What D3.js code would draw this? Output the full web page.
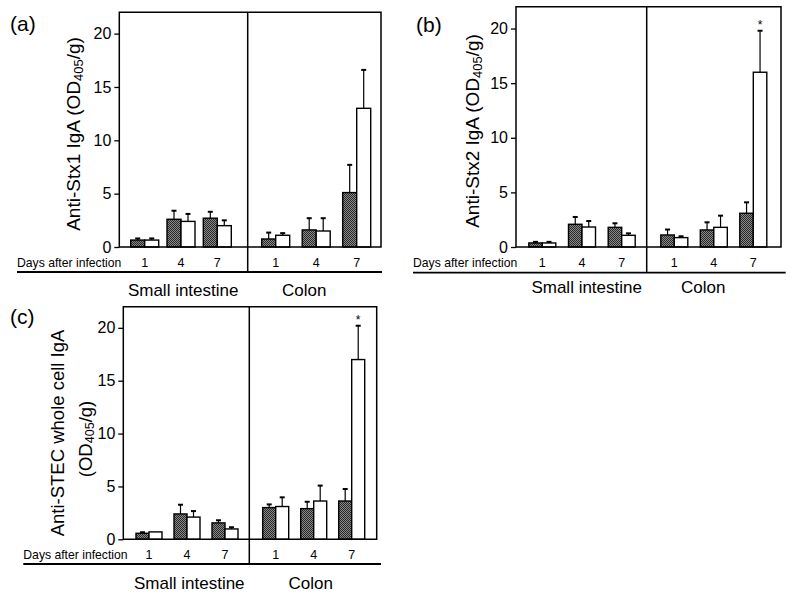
<!DOCTYPE html>
<html>
<head>
<meta charset="utf-8">
<script src="https://cdn.jsdelivr.net/npm/d3@7/dist/d3.min.js"></script>
<style>
  html, body { margin: 0; padding: 0; background: #fff; }
  svg { display: block; }
  text { font-family: "Liberation Sans", Arial, Helvetica, sans-serif; fill: #000; }
</style>
</head>
<body>
<svg id="chart" width="800" height="606"></svg>
<script>
// ---------------- DATA ----------------
const days = ["1", "4", "7"];
const sites = ["Small intestine", "Colon"];
const yTicks = [0, 5, 10, 15, 20];
const dayAxisTitle = "Days after infection";

// order: small intestine d1, d4, d7, colon d1, d4, d7
// (a) Anti-Stx1 IgA
const aDark   = [0.65, 2.6, 2.7, 0.75, 1.6, 5.1];
const aDarkSD = [0.15, 0.8, 0.6, 0.6, 1.1, 2.6];
const aOpen   = [0.65, 2.4, 2.0, 1.1, 1.5, 13.0];
const aOpenSD = [0.15, 0.7, 0.5, 0.2, 1.2, 3.6];
const aStar   = [0, 0, 0, 0, 0, 0];
// (b) Anti-Stx2 IgA
const bDark   = [0.37, 2.08, 1.8, 1.1, 1.56, 3.09];
const bDarkSD = [0.1, 0.67, 0.37, 0.5, 0.7, 1.0];
const bOpen   = [0.37, 1.83, 1.07, 0.86, 1.8, 16.0];
const bOpenSD = [0.1, 0.55, 0.18, 0.12, 1.07, 3.8];
const bStar   = [0, 0, 0, 0, 0, 1];
// (c) Anti-STEC whole cell IgA
const cDark   = [0.57, 2.4, 1.55, 3.0, 2.9, 3.62];
const cDarkSD = [0.1, 0.87, 0.25, 0.3, 0.65, 1.14];
const cOpen   = [0.7, 2.1, 0.98, 3.1, 3.62, 17.0];
const cOpenSD = [0, 0.57, 0.16, 0.87, 1.46, 3.2];
const cStar   = [0, 0, 0, 0, 0, 1];

// ---------------- LAYOUT ----------------
const panels = [
  { title: "(a)", yLabel: [["Anti-Stx1 IgA (OD", "405", "/g)"]],
    dark: aDark, darkSD: aDarkSD, open: aOpen, openSD: aOpenSD, star: aStar,
    L: 119.3, R: 381, T: 12.3, B: 247, D: 247.7, lineY: 272, lineX0: 17, lineX1: 382,
    si: [144.7, 217.3], co: [275.7, 356.7], bw: 14,
    siLabelX: 183.2, coLabelX: 304.2, sectY: 290,
    yLabX: [73], yLabY: [134], yLabSize: 19, titleX: 10, titleY: 31 },
  { title: "(b)", yLabel: [["Anti-Stx2 IgA (OD", "405", "/g)"]],
    dark: bDark, darkSD: bDarkSD, open: bOpen, openSD: bOpenSD, star: bStar,
    L: 516, R: 781, T: 6.7, B: 247, D: 646.7, lineY: 272.7, lineX0: 413, lineX1: 785.7,
    si: [542.3, 621.7], co: [674.3, 753.3], bw: 13.5,
    siLabelX: 586.7, coLabelX: 703.3, sectY: 287.3,
    yLabX: [471.7], yLabY: [131], yLabSize: 19, titleX: 416, titleY: 32 },
  { title: "(c)", yLabel: [["Anti-STEC whole cell IgA"], ["(OD", "405", "/g)"]],
    dark: cDark, darkSD: cDarkSD, open: cOpen, openSD: cOpenSD, star: cStar,
    L: 123.3, R: 376.7, T: 306.7, B: 539.3, D: 249.3, lineY: 564, lineX0: 23.3, lineX1: 381,
    si: [149, 225], co: [275.7, 351.7], bw: 13,
    siLabelX: 189.3, coLabelX: 310.7, sectY: 583.3,
    yLabX: [56.7, 85], yLabY: [433, 439], yLabSize: 18.5, titleX: 10, titleY: 324 }
];

const svg = d3.select("#chart");

// hatched (checker) pattern for dark bars
const defs = svg.append("defs");
const pat = defs.append("pattern").attr("id", "checker")
  .attr("width", 2).attr("height", 2).attr("patternUnits", "userSpaceOnUse");
pat.append("rect").attr("width", 2).attr("height", 2).attr("fill", "#888");
pat.append("rect").attr("width", 1).attr("height", 1).attr("fill", "#2a2a2a");
pat.append("rect").attr("x", 1).attr("y", 1).attr("width", 1).attr("height", 1).attr("fill", "#2a2a2a");

panels.forEach(p => {
  const g = svg.append("g");
  const y = d3.scaleLinear().domain([0, 22]).range([p.B, p.T]);
  const xSI = d3.scalePoint().domain(days).range(p.si);
  const xCO = d3.scalePoint().domain(days).range(p.co);
  const xScales = [xSI, xCO];

  const rows = [];
  sites.forEach((s, si) => days.forEach((d, di) => {
    const i = si * 3 + di;
    const cx = xScales[si](d);
    rows.push({ cx, series: "dark", v: p.dark[i], sd: p.darkSD[i], star: 0, x0: cx - p.bw });
    rows.push({ cx, series: "open", v: p.open[i], sd: p.openSD[i], star: p.star[i], x0: cx });
  }));

  // bars
  g.selectAll("rect.bar").data(rows).join("rect")
    .attr("class", "bar")
    .attr("x", d => d.x0).attr("width", p.bw)
    .attr("y", d => y(d.v)).attr("height", d => y(0) - y(d.v))
    .attr("fill", d => d.series === "dark" ? "url(#checker)" : "#fff")
    .attr("stroke", "#000").attr("stroke-width", 1.4);

  // error bars
  const eb = rows.filter(d => d.sd > 0);
  g.selectAll("line.stem").data(eb).join("line")
    .attr("x1", d => d.x0 + p.bw / 2).attr("x2", d => d.x0 + p.bw / 2)
    .attr("y1", d => y(d.v)).attr("y2", d => y(d.v + d.sd))
    .attr("stroke", "#000").attr("stroke-width", 1.2);
  g.selectAll("line.cap").data(eb).join("line")
    .attr("x1", d => d.x0 + p.bw / 2 - 2.5).attr("x2", d => d.x0 + p.bw / 2 + 2.5)
    .attr("y1", d => y(d.v + d.sd)).attr("y2", d => y(d.v + d.sd))
    .attr("stroke", "#000").attr("stroke-width", 2);

  // significance stars
  g.selectAll("text.star").data(rows.filter(d => d.star)).join("text")
    .attr("x", d => d.x0 + p.bw / 2).attr("y", d => y(d.v + d.sd) - 2)
    .attr("text-anchor", "middle").attr("font-size", 12).text("*");

  // frame
  g.append("path")
    .attr("d", `M${p.L},${p.B}V${p.T}H${p.R}V${p.B}Z`)
    .attr("fill", "none").attr("stroke", "#000").attr("stroke-width", 1.5);
  g.append("line").attr("x1", p.D).attr("x2", p.D).attr("y1", p.T).attr("y2", p.lineY)
    .attr("stroke", "#000").attr("stroke-width", 1.5);
  g.append("line").attr("x1", p.lineX0).attr("x2", p.lineX1).attr("y1", p.lineY).attr("y2", p.lineY)
    .attr("stroke", "#000").attr("stroke-width", 1.8);

  // y axis
  const ax = g.append("g").attr("transform", `translate(${p.L},0)`)
    .call(d3.axisLeft(y).tickValues(yTicks).tickSize(5).tickPadding(3));
  ax.select(".domain").remove();
  ax.selectAll("line").attr("stroke", "#000").attr("stroke-width", 1.3);
  ax.selectAll("text").attr("font-size", 16)
    .attr("font-family", '"Liberation Sans", Arial, sans-serif').attr("fill", "#000");

  // day labels
  g.append("text").attr("x", p.lineX0).attr("y", p.B + 16).attr("dominant-baseline", "central")
    .attr("font-size", 12.2).text(dayAxisTitle);
  xScales.forEach(xs => {
    g.selectAll(null).data(days).join("text")
      .attr("x", d => xs(d)).attr("y", p.B + 16).attr("dominant-baseline", "central")
      .attr("text-anchor", "middle").attr("font-size", 12.5).text(d => d);
  });

  // site labels
  [p.siLabelX, p.coLabelX].forEach((lx, i) => {
    g.append("text").attr("x", lx).attr("y", p.sectY).attr("dominant-baseline", "central")
      .attr("text-anchor", "middle").attr("font-size", 17).text(sites[i]);
  });

  // y label
  p.yLabel.forEach((parts, li) => {
    const t = g.append("text")
      .attr("transform", `translate(${p.yLabX[li]},${p.yLabY[li]}) rotate(-90)`)
      .attr("text-anchor", "middle").attr("dominant-baseline", "central")
      .attr("font-size", p.yLabSize);
    t.append("tspan").text(parts[0]);
    if (parts.length > 1) {
      t.append("tspan").attr("font-size", p.yLabSize * 0.68).attr("dy", 5).text(parts[1]);
      t.append("tspan").attr("dy", -5).text(parts[2]);
    }
  });

  // panel title
  g.append("text").attr("x", p.titleX).attr("y", p.titleY).attr("font-size", 21).text(p.title);
});
</script>
</body>
</html>
